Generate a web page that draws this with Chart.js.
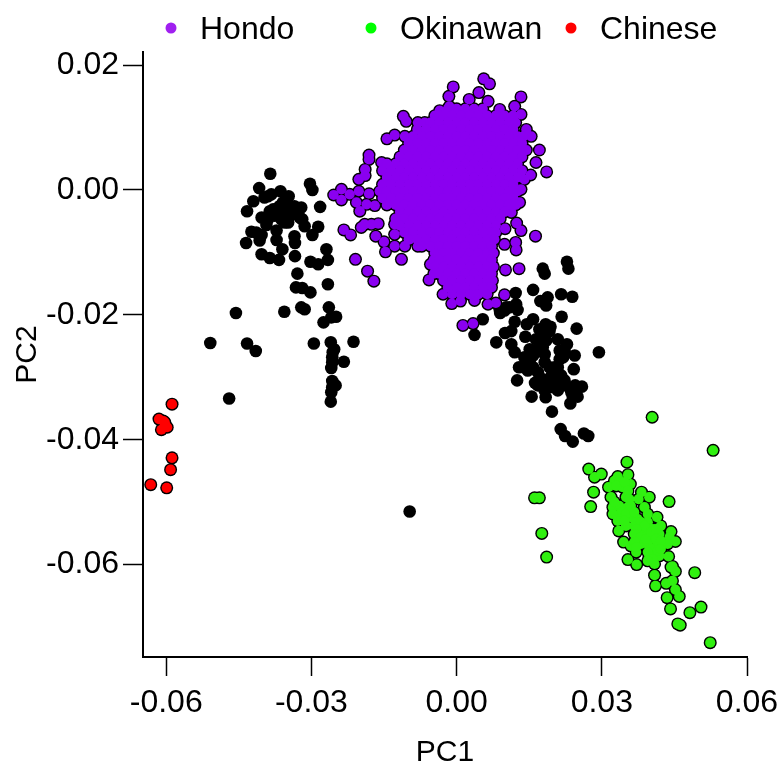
<!DOCTYPE html>
<html><head><meta charset="utf-8">
<script src="https://cdn.jsdelivr.net/npm/chart.js@4"></script>
<style>html,body{margin:0;padding:0;background:#fff}canvas{display:block}</style>
</head><body><canvas id="c" width="781" height="766"></canvas>
<script>
const xTickValues=[-0.06,-0.03,0,0.03,0.06];
const xTickLabels=["-0.06","-0.03","0.00","0.03","0.06"];
const yTickValues=[0.02,0,-0.02,-0.04,-0.06];
const yTickLabels=["0.02","0.00","-0.02","-0.04","-0.06"];
const legendNames=["Hondo","Okinawan","Chinese"];
const legendColors=["#A020F0","#00FF00","#FF0000"];

const chineseX=[-.0588,-.0615,-.0606,-.0610,-.0598,-.0603,-.0588,-.0591,-.0632,-.0599];
const chineseY=[-.0343,-.0367,-.0370,-.0384,-.0380,-.0372,-.0429,-.0448,-.0472,-.0477];

const okinawanX=[.0404,.0530,.0352,.0273,.0285,.0299,.0283,.0277,.0161,.0171,.0176,.0186,.0439,.0333,.0354,.0326,.0359,.0314,.0343,.0319,.0350,.0323,.0336,.0354,.0382,.0398,.0376,.0388,.0395,.0333,.0360,.0350,.0335,.0367,.0378,.0414,.0395,.0422,.0405,.0388,.0419,.0374,.0402,.0443,.0440,.0452,.0436,.0345,.0360,.0381,.0412,.0371,.0354,.0372,.0398,.0409,.0419,.0438,.0446,.0452,.0492,.0409,.0411,.0433,.0446,.0452,.0460,.0435,.0442,.0505,.0482,.0457,.0462,.0524,.0391,.0405,.0395,.0409,.0374,
.0336,.0326,.0340,.0350,.0347,.0371,.0381,.0388,.0371,.0367,.0381,.0367,.0391,.0402,.0412,.0412,.0422,.0402,.0395,.0416,.0422,.0405,.0395,.0371,.0443,.0336,.0330,.0347,.0354,.0357,.0360,.0367,.0323];
const okinawanY=[-.0364,-.0417,-.0436,-.0447,-.0460,-.0455,-.0484,-.0507,-.0493,-.0493,-.0550,-.0588,-.0499,-.0459,-.0456,-.0466,-.0471,-.0476,-.0476,-.0492,-.0492,-.0508,-.0506,-.0508,-.0484,-.0492,-.0495,-.0508,-.0519,-.0530,-.0524,-.0538,-.0546,-.0538,-.0546,-.0524,-.0532,-.0538,-.0543,-.0551,-.0551,-.0556,-.0559,-.0547,-.0556,-.0563,-.0567,-.0564,-.0570,-.0567,-.0572,-.0580,-.0592,-.0600,-.0588,-.0599,-.0586,-.0587,-.0603,-.0611,-.0613,-.0617,-.0634,-.0630,-.0626,-.0640,-.0651,-.0653,-.0671,-.0668,-.0677,-.0695,-.0697,-.0725,-.0540,-.0551,-.0567,-.0583,-.0527,
-.0522,-.0500,-.0516,-.0519,-.0530,-.0532,-.0532,-.0538,-.0543,-.0551,-.0556,-.0564,-.0559,-.0548,-.0543,-.0559,-.0562,-.0575,-.0580,-.0578,-.0575,-.0591,-.0594,-.0572,-.0604,-.0466,-.0474,-.0468,-.0482,-.0495,-.0506,-.0516,-.0519];

const otherX=[.0228,.0231,.0178,.0182,.0158,.0122,.0216,.0239,.0188,.0173,.0185,.0123,.0126,.0102,.0090,.0054,.0037,.0217,.0120,.0158,.0145,.0248,.0184,.0194,.0113,.0100,.0175,.0142,.0082,.0113,.0120,.0209,.0185,.0228,.0151,.0178,.0223,.0294,.0244,.0158,.0213,.0151,.0182,.0129,.0147,.0202,.0242,.0168,.0207,.0125,.0223,.0162,.0185,.0207,.0245,.0259,.0182,.0209,.0237,.0250,.0155,.0184,.0235,.0197,.0215,.0224,.0240,.0263,.0272,.0196,
.0164,.0175,.0164,.0140,.0140,.0158,.0182,.0213,.0220,.0209,.0192,.0216,.0175,.0168,.0192,.0196,.0220,.0233,.0240,.0171,.0192,.0185,.0151,.0109,.0099,.0089,
-.0385,-.0408,-.0303,-.0298,-.0364,-.0390,-.0347,-.0420,-.0282,-.0321,-.0433,-.0366,-.0345,-.0386,-.0366,-.0351,-.0403,-.0390,-.0362,-.0324,-.0348,-.0393,-.0314,-.0286,-.0298,-.0424,-.0403,-.0372,-.0335,-.0407,-.0435,-.0372,-.0334,-.0360,-.0269,-.0403,-.0386,-.0367,-.0334,-.0266,-.0302,-.0286,-.0329,-.0332,-.0319,-.0302,-.0266,-.0456,-.0356,-.0321,-.0314,-.0264,-.0249,-.0259,-.0275,-.0509,-.0433,-.0415,-.0295,-.0260,-.0213,-.0253,-.0257,-.0233,-.0257,-.0259,-.0257,-.0250,-.0259,-.0260,-.0470,-.0097,
-.0359,-.0335,-.0355,-.0342,-.0376,-.0359,-.0379,-.0331,-.0355,-.0397,-.0383,-.0414,-.0319,-.0256,-.0257];
const otherY=[-.0115,-.0126,-.0126,-.0134,-.0160,-.0165,-.0167,-.0171,-.0172,-.0178,-.0185,-.0183,-.0192,-.0188,-.0197,-.0207,-.0232,-.0203,-.0211,-.0207,-.0215,-.0222,-.0215,-.0219,-.0226,-.0229,-.0228,-.0235,-.0244,-.0247,-.0260,-.0239,-.0241,-.0247,-.0255,-.0252,-.0257,-.0260,-.0265,-.0265,-.0271,-.0276,-.0276,-.0284,-.0289,-.0284,-.0287,-.0292,-.0297,-.0305,-.0305,-.0309,-.0305,-.0313,-.0313,-.0315,-.0321,-.0321,-.0324,-.0331,-.0331,-.0332,-.0342,-.0355,-.0383,-.0394,-.0403,-.0390,-.0394,-.0298,
-.0239,-.0239,-.0257,-.0268,-.0284,-.0284,-.0263,-.0257,-.0268,-.0284,-.0284,-.0297,-.0302,-.0313,-.0316,-.0310,-.0313,-.0316,-.0331,-.0223,-.0226,-.0228,-.0263,-.0188,-.0193,-.0191,
.0026,.0003,.0010,.0000,-.0002,-.0010,-.0010,-.0018,-.0027,-.0028,-.0034,-.0026,-.0026,-.0034,-.0036,-.0039,-.0044,-.0047,-.0047,-.0044,-.0052,-.0056,-.0058,-.0059,-.0072,-.0067,-.0072,-.0065,-.0074,-.0081,-.0085,-.0080,-.0085,-.0095,-.0095,-.0103,-.0109,-.0112,-.0106,-.0112,-.0115,-.0119,-.0134,-.0156,-.0157,-.0164,-.0151,-.0197,-.0195,-.0188,-.0191,-.0188,-.0203,-.0204,-.0212,-.0245,-.0246,-.0258,-.0246,-.0244,-.0243,-.0255,-.0268,-.0275,-.0276,-.0285,-.0306,-.0313,-.0324,-.0339,-.0334,-.0515,
-.0020,-.0026,-.0031,-.0039,-.0041,-.0041,-.0031,-.0034,-.0052,-.0012,-.0007,-.0068,-.0047,-.0260,-.0316];

const hondoEdgeX=[.0056,.0068,-.0007,-.0016,.0046,.0133,.0026,.0065,-.0035,-.0015,.0089,.0120,-.0110,-.0104,-.0080,-.0128,-.0144,-.0107,.0133,.0144,.0154,.0171,-.0181,-.0181,-.0155,-.0189,-.0189,-.0202,.0164,.0186,.0153,-.0238,-.0254,-.0238,-.0221,-.0202,-.0181,-.0207,-.0186,-.0169,-.0200,-.0190,-.0176,-.0162,-.0197,-.0233,-.0219,-.0167,-.0150,-.0147,-.0209,-.0184,-.0171,-.0128,-.0128,-.0128,-.0107,-.0114,-.0097,-.0080,-.0054,-.0037,-.0057,-.0028,-.0010,.0008,.0037,.0065,.0081,.0013,.0034,.0099,.0101,.0129,.0100,.0124,.0133,.0163,.0122,.0123,.0099,.0113,.0130,.0133,.0140];
const hondoEdgeY=[.0178,.0170,.0165,.0150,.0156,.0149,.0145,.0142,.0127,.0134,.0129,.0134,.0118,.0110,.0108,.0088,.0082,.0086,.0121,.0097,.0086,.0064,.0056,.0049,.0044,.0033,.0023,.0017,.0044,.0029,.0024,.0001,-.0008,-.0016,-.0007,-.0002,-.0006,-.0020,-.0023,-.0025,-.0034,-.0055,-.0055,-.0054,-.0060,-.0064,-.0072,-.0074,-.0083,-.0099,-.0111,-.0130,-.0146,-.0055,-.0071,-.0090,-.0090,-.0111,-.0079,-.0090,-.0119,-.0127,-.0144,-.0167,-.0182,-.0178,-.0177,-.0183,-.0181,-.0217,-.0214,-.0168,-.0128,-.0126,-.0062,-.0053,-.0065,-.0074,-.0084,-.0096,-.0087,-.0036,-.0020,.0001,.0017];

const hondoCoreY=[.0130,.0119,.0108,.0097,.0086,.0075,.0064,.0053,.0042,.0031,.0020,.0009,-.0002,-.0013,-.0024,-.0035,-.0046,-.0057,-.0068,-.0079,-.0090,-.0101,-.0112,-.0123,-.0134,-.0145,-.0156,-.0167];
const hondoCoreX=[
[-.0018,0,.0018,.0036,.0054],
[-.0045,-.0027,-.0009,.0009,.0027,.0045,.0063,.0081,.0099,.0117],
[-.0066,-.0054,-.0036,-.0018,0,.0018,.0036,.0054,.0072,.0090,.0108,.0122],
[-.0081,-.0063,-.0045,-.0027,-.0009,.0009,.0027,.0045,.0063,.0081,.0099,.0117],
[-.0090,-.0072,-.0054,-.0036,-.0018,0,.0018,.0036,.0054,.0072,.0090,.0108,.0126,.0138],
[-.0099,-.0081,-.0063,-.0045,-.0027,-.0009,.0009,.0027,.0045,.0063,.0081,.0099,.0117,.0135],
[-.0108,-.0090,-.0072,-.0054,-.0036,-.0018,0,.0018,.0036,.0054,.0072,.0090,.0108,.0126,.0144],
[-.0117,-.0099,-.0081,-.0063,-.0045,-.0027,-.0009,.0009,.0027,.0045,.0063,.0081,.0099,.0117,.0135],
[-.0144,-.0126,-.0108,-.0090,-.0072,-.0054,-.0036,-.0018,0,.0018,.0036,.0054,.0072,.0090,.0108,.0126],
[-.0153,-.0135,-.0117,-.0099,-.0081,-.0063,-.0045,-.0027,-.0009,.0009,.0027,.0045,.0063,.0081,.0099,.0117,.0135],
[-.0144,-.0126,-.0108,-.0090,-.0072,-.0054,-.0036,-.0018,0,.0018,.0036,.0054,.0072,.0090,.0108,.0126],
[-.0153,-.0135,-.0117,-.0099,-.0081,-.0063,-.0045,-.0027,-.0009,.0009,.0027,.0045,.0063,.0081,.0099,.0117],
[-.0159,-.0144,-.0126,-.0108,-.0090,-.0072,-.0054,-.0036,-.0018,0,.0018,.0036,.0054,.0072,.0090,.0108,.0126],
[-.0153,-.0135,-.0117,-.0099,-.0081,-.0063,-.0045,-.0027,-.0009,.0009,.0027,.0045,.0063,.0081,.0099,.0117],
[-.0144,-.0126,-.0108,-.0090,-.0072,-.0054,-.0036,-.0018,0,.0018,.0036,.0054,.0072,.0090,.0108,.0122],
[-.0117,-.0099,-.0081,-.0063,-.0045,-.0027,-.0009,.0009,.0027,.0045,.0063,.0081,.0099],
[-.0126,-.0108,-.0090,-.0072,-.0054,-.0036,-.0018,0,.0018,.0036,.0054,.0072,.0090],
[-.0117,-.0099,-.0081,-.0063,-.0045,-.0027,-.0009,.0009,.0027,.0045,.0063,.0081],
[-.0108,-.0090,-.0072,-.0054,-.0036,-.0018,0,.0018,.0036,.0054,.0072,.0081],
[-.0099,-.0081,-.0063,-.0045,-.0027,-.0009,.0009,.0027,.0045,.0063,.0078],
[-.0072,-.0054,-.0036,-.0018,0,.0018,.0036,.0054,.0072],
[-.0045,-.0027,-.0009,.0009,.0027,.0045,.0063,.0076],
[-.0047,-.0036,-.0018,0,.0018,.0036,.0054,.0072],
[-.0045,-.0027,-.0009,.0009,.0027,.0045,.0063,.0076],
[-.0047,-.0036,-.0018,0,.0018,.0036,.0054,.0072],
[-.0027,-.0009,.0009,.0027,.0045,.0063,.0074],
[-.0018,0,.0018,.0036,.0054,.0072],
[-.0009,.0009,.0027,.0045,.0063]
];

const fillColors={hondo:"#8A00F0",okinawan:"#30F010",chinese:"#FF0000"};
const FONT="'Liberation Sans', Arial, sans-serif";
const pts=(xs,ys)=>xs.map((x,i)=>({x,y:ys[i]}));
const hondoPoints=pts(hondoEdgeX,hondoEdgeY).concat(
  ...hondoCoreX.map((row,i)=>row.map(x=>({x,y:hondoCoreY[i]}))));
const okinawanPoints=pts(okinawanX,okinawanY);
const chinesePoints=pts(chineseX,chineseY);
const otherPoints=pts(otherX,otherY);

const layer=(label,data,color,radius,order)=>({label,data,order,clip:false,showLine:false,
  pointRadius:radius,pointHoverRadius:radius,pointBorderWidth:0,
  pointBackgroundColor:color,borderColor:color,backgroundColor:color});

const spacedLegend={id:"spacedLegend",afterDraw(chart){
  const ctx=chart.ctx;ctx.save();
  ctx.font="32px "+FONT;ctx.textBaseline="middle";ctx.textAlign="left";
  const dotX=[171,371,571],textX=[200,400,600];
  legendNames.forEach((n,i)=>{
    ctx.fillStyle=legendColors[i];ctx.beginPath();ctx.arc(dotX[i],28,5.5,0,Math.PI*2);ctx.fill();
    ctx.fillStyle="#000";ctx.fillText(n,textX[i],30);
  });
  ctx.restore();
}};

const noOverhang=s=>{s.paddingLeft=0;s.paddingRight=0;s.paddingTop=0;s.paddingBottom=0;};

new Chart(document.getElementById("c"),{
  type:"scatter",
  data:{datasets:[
    layer("Other",otherPoints,"#000",6.3,7),
    layer("Hondo outline",hondoPoints,"#000",6.5,6),
    layer("Hondo",hondoPoints,fillColors.hondo,5.1,5),
    layer("Okinawan outline",okinawanPoints,"#000",6.5,4),
    layer("Okinawan",okinawanPoints,fillColors.okinawan,5.1,3),
    layer("Chinese outline",chinesePoints,"#000",6.5,2),
    layer("Chinese",chinesePoints,fillColors.chinese,5.1,1)
  ]},
  plugins:[spacedLegend],
  options:{
    responsive:false,animation:false,
    layout:{padding:{top:52,right:34,left:0,bottom:0}},
    plugins:{legend:{display:false},tooltip:{enabled:false}},
    scales:{
      x:{type:"linear",min:-0.0648,max:0.06,
        afterBuildTicks(s){s.ticks=xTickValues.map(v=>({value:v}));},
        afterFit(s){s.height=109;noOverhang(s);},
        grid:{drawOnChartArea:false,tickLength:19,tickColor:"#000",tickWidth:1.5},
        border:{color:"#000",width:2},
        ticks:{callback:(v,i)=>xTickLabels[i],maxRotation:0,autoSkip:false,color:"#000",font:{family:FONT,size:32},padding:8},
        title:{display:true,text:"PC1",color:"#000",font:{family:FONT,size:30},padding:{top:0,bottom:-5}}
      },
      y:{type:"linear",min:-0.0748,max:0.0221,
        afterBuildTicks(s){s.ticks=yTickValues.map(v=>({value:v}));},
        afterFit(s){s.width=143;noOverhang(s);},
        grid:{drawOnChartArea:false,tickLength:20,tickColor:"#000",tickWidth:1.5},
        border:{color:"#000",width:2},
        ticks:{callback:(v,i)=>yTickLabels[i],autoSkip:false,color:"#000",font:{family:FONT,size:32},padding:4},
        title:{display:true,text:"PC2",color:"#000",font:{family:FONT,size:30},padding:{top:10,bottom:0}}
      }
    }
  }
});
</script></body></html>
